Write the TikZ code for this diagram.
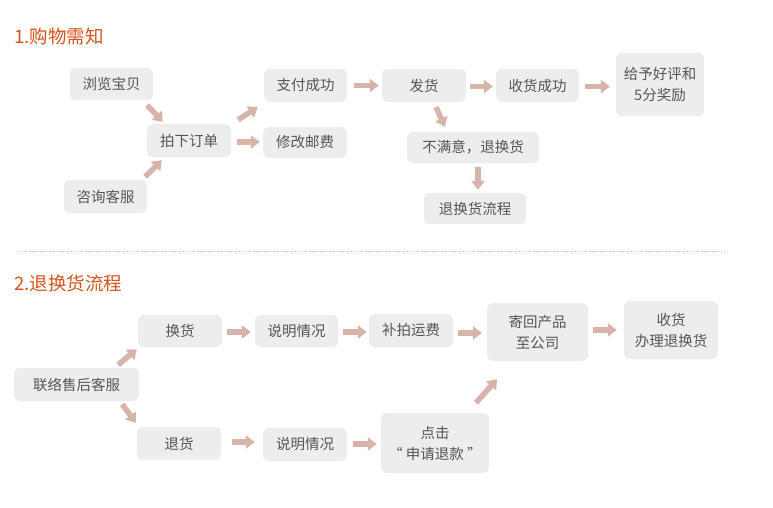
\documentclass[tikz,border=0pt]{standalone}
\usepackage{fontspec}
\setmainfont{Noto Sans CJK SC}
\usetikzlibrary{arrows.meta,calc}
\definecolor{boxgray}{HTML}{EDEDED}
\definecolor{txtgray}{HTML}{555555}
\definecolor{arrowpink}{HTML}{D6B4A9}
\definecolor{titleorange}{HTML}{D4541C}
\definecolor{dotgray}{HTML}{BBBBBB}
\tikzset{
  box/.style={fill=boxgray, rounded corners=6pt, text=txtgray, inner sep=0pt,
    font=\fontsize{14.5}{21}\selectfont, align=center},
  arr/.style={draw=arrowpink, line width=5.5pt, -{Triangle[length=9pt,width=13pt]}},
  ttl/.style={text=titleorange, font=\fontsize{18.5}{20}\selectfont, anchor=west, inner sep=0pt}
}
\begin{document}
\begin{tikzpicture}[x=1pt,y=-1pt]
\useasboundingbox[fill=white] (0,0) rectangle (773,507);
% titles
\node[ttl] (t1) at (14,36) {1.购物需知};
\node[ttl] (t2) at (14,283) {2.退换货流程};
\draw[dotgray, dotted, line width=0.8pt] (18,251) -- (725,251);
% section 1 boxes
\node[box, minimum width=83pt, minimum height=32pt] (b1) at (111.5,84) {浏览宝贝};
\node[box, minimum width=84pt, minimum height=33pt] (b2) at (189,140.5) {拍下订单};
\node[box, minimum width=83pt, minimum height=33pt] (b3) at (105.5,196.5) {咨询客服};
\node[box, minimum width=83pt, minimum height=33pt] (b4) at (305.5,85.5) {支付成功};
\node[box, minimum width=84pt, minimum height=31pt] (b5) at (305,142.5) {修改邮费};
\node[box, minimum width=84pt, minimum height=33pt] (b6) at (424,85.5) {发货};
\node[box, minimum width=83pt, minimum height=33pt] (b7) at (537.5,85.5) {收货成功};
\node[box, minimum width=88pt, minimum height=63pt] (b8) at (660,84.5) {给予好评和\\5分奖励};
\node[box, minimum width=132pt, minimum height=31pt] (b9) at (473,147.5) {不满意，退换货};
\node[box, minimum width=102pt, minimum height=31pt] (b10) at (475,208.5) {退换货流程};
% section 2 boxes
\node[box, minimum width=125pt, minimum height=33pt] (c1) at (76.5,384.5) {联络售后客服};
\node[box, minimum width=84pt, minimum height=32pt] (c2) at (180,331) {换货};
\node[box, minimum width=83pt, minimum height=32pt] (c3) at (296.5,331) {说明情况};
\node[box, minimum width=84pt, minimum height=33pt] (c4) at (411,330.5) {补拍运费};
\node[box, minimum width=101pt, minimum height=58pt] (c5) at (537.5,332) {寄回产品\\至公司};
\node[box, minimum width=94pt, minimum height=58pt] (c6) at (671,330) {收货\\办理退换货};
\node[box, minimum width=84pt, minimum height=33pt] (c7) at (179,443.5) {退货};
\node[box, minimum width=84pt, minimum height=33pt] (c8) at (305,444.5) {说明情况};
\node[box, minimum width=108pt, minimum height=60pt] (c9) at (435,443) {点击\\“ 申请退款 ”};
% section 1 arrows
\draw[arr] ($(b1.south east)+(-6,5)$) -- ($(b2.north west)+(16,-2)$);
\draw[arr] ($(b3.north east)+(-2,-3)$) -- ($(b2.south west)+(15,3)$);
\draw[arr] ($(b2.north east)+(7,-4)$) -- ($(b4.south west)+(-6,5)$);
\draw[arr] ($(b2.east)+(6,1.5)$) -- ($(b5.west)+(-3,-0.5)$);
\draw[arr] ($(b4.east)+(7,0)$) -- ($(b6.west)+(-3,0)$);
\draw[arr] ($(b6.east)+(4,1)$) -- ($(b7.west)+(-3,1)$);
\draw[arr] ($(b7.east)+(6,1)$) -- ($(b8.west)+(-6,2)$);
\draw[arr] ($(b6.south)+(12,5)$) -- ($(b9.north)+(-28,-5)$);
\draw[arr] ($(b9.south)+(5,4)$) -- ($(b10.north)+(3,-3)$);
% section 2 arrows
\draw[arr] ($(c1.north east)+(-21,-3)$) -- ($(c2.south west)+(-1,2)$);
\draw[arr] ($(c1.south east)+(-17,3)$) -- ($(c7.north west)+(-1,-4)$);
\draw[arr] ($(c2.east)+(5,1)$) -- ($(c3.west)+(-4,1)$);
\draw[arr] ($(c3.east)+(5,1)$) -- ($(c4.west)+(-2,1.5)$);
\draw[arr] ($(c4.east)+(5,2.5)$) -- ($(c5.west)+(-5,1)$);
\draw[arr] ($(c5.east)+(5,-2)$) -- ($(c6.west)+(-7,0)$);
\draw[arr] ($(c7.east)+(11,-1.5)$) -- ($(c8.west)+(-8,-2.5)$);
\draw[arr] ($(c8.east)+(6,-0.5)$) -- ($(c9.west)+(-4,1)$);
\draw[arr] ($(c9.north)+(41,-10)$) -- ($(c5.south)+(-40.5,18)$);
\end{tikzpicture}
\end{document}
